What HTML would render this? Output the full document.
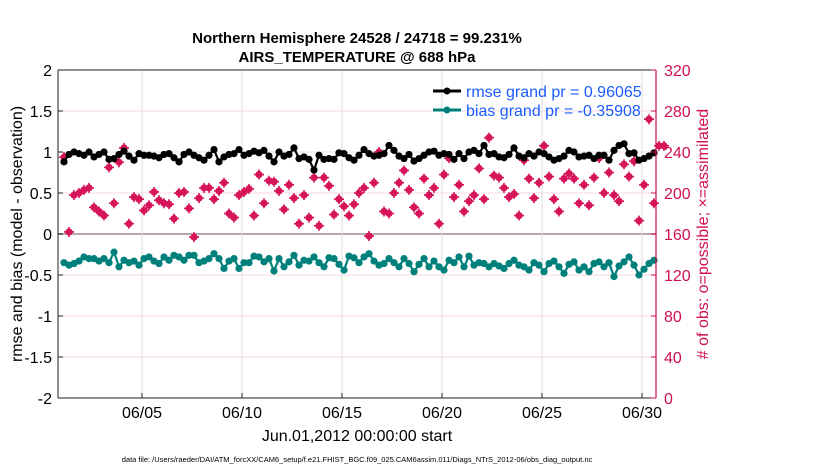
<!DOCTYPE html>
<html><head><meta charset="utf-8"><style>
body{margin:0;background:#fff;}
svg{display:block;font-family:"Liberation Sans",sans-serif;}
</style></head><body>
<svg id="chart" width="830" height="470" viewBox="0 0 830 470" xmlns="http://www.w3.org/2000/svg">
<text x="357" y="43" text-anchor="middle" font-size="15" font-weight="bold">Northern Hemisphere 24528 / 24718 = 99.231%</text>
<text x="357" y="62" text-anchor="middle" font-size="15" font-weight="bold">AIRS_TEMPERATURE @ 688 hPa</text>
<g id="grid"></g>
<g id="obs"></g>
<g id="lines"></g>
<g id="axes"></g>
<text transform="translate(22,234) rotate(-90)" text-anchor="middle" font-size="16">rmse and bias (model - observation)</text>
<text transform="translate(708,234) rotate(-90)" text-anchor="middle" font-size="16" fill="#d0104c"># of obs: o=possible; ×=assimilated</text>
<text x="357" y="441" text-anchor="middle" font-size="16">Jun.01,2012 00:00:00 start</text>
<text x="357" y="462" text-anchor="middle" font-size="7.5">data file: /Users/raeder/DAI/ATM_forcXX/CAM6_setup/f.e21.FHIST_BGC.f09_025.CAM6assim.011/Diags_NTrS_2012-06/obs_diag_output.nc</text>
<g>
<line x1="433" y1="91" x2="461" y2="91" stroke="#000" stroke-width="3"/><circle cx="447" cy="91" r="3.5" fill="#000"/>
<text x="466" y="97" font-size="16" fill="#1a5cff">rmse grand pr = 0.96065</text>
<line x1="433" y1="110" x2="461" y2="110" stroke="#00807a" stroke-width="3"/><circle cx="447" cy="110" r="3.5" fill="#00807a"/>
<text x="466" y="116" font-size="16" fill="#1a5cff">bias grand pr = -0.35908</text>
</g>
</svg>
<script>
const leftTicks=[-2,-1.5,-1,-0.5,0,0.5,1,1.5,2];
const leftTickLabels=["-2","-1.5","-1","-0.5","0","0.5","1","1.5","2"];
const rightTicks=[0,40,80,120,160,200,240,280,320];
const xTickDays=[4,9,14,19,24,29];
const xTickLabels=["06/05","06/10","06/15","06/20","06/25","06/30"];
const startDay=0.1, stepDay=0.25;
const rmse=[0.88,0.97,1.00,0.98,0.96,1.00,0.94,0.97,1.00,0.91,0.92,0.97,1.01,0.95,0.90,0.98,0.96,0.96,0.95,0.93,0.97,0.98,0.93,0.88,0.97,1.00,0.96,0.93,0.90,0.96,1.03,0.88,0.94,0.97,0.98,1.03,0.96,0.98,1.01,0.99,1.02,0.95,0.88,1.00,0.95,0.97,1.05,0.92,0.94,0.91,0.78,0.96,0.91,0.92,0.91,0.99,0.98,0.93,0.90,0.96,1.03,0.98,0.95,0.96,0.98,1.08,1.02,0.95,0.92,0.97,0.89,0.92,0.96,1.00,1.01,0.96,0.98,0.97,0.91,0.98,0.92,1.00,1.02,0.98,1.08,0.97,0.98,0.94,0.93,0.97,1.05,0.95,0.93,0.98,0.95,1.00,0.98,0.94,0.90,0.92,0.95,1.02,1.00,0.94,0.95,0.96,0.92,0.96,0.96,0.90,1.02,1.08,1.10,0.98,0.99,0.90,0.92,0.95,0.99];
const bias=[-0.35,-0.38,-0.36,-0.33,-0.28,-0.30,-0.30,-0.33,-0.30,-0.35,-0.22,-0.40,-0.32,-0.35,-0.33,-0.38,-0.30,-0.28,-0.33,-0.36,-0.28,-0.32,-0.26,-0.28,-0.32,-0.26,-0.26,-0.35,-0.33,-0.30,-0.24,-0.30,-0.42,-0.33,-0.30,-0.42,-0.35,-0.35,-0.27,-0.28,-0.34,-0.30,-0.45,-0.30,-0.40,-0.34,-0.26,-0.38,-0.32,-0.33,-0.28,-0.35,-0.40,-0.29,-0.30,-0.37,-0.44,-0.27,-0.29,-0.35,-0.28,-0.24,-0.33,-0.38,-0.36,-0.30,-0.35,-0.40,-0.30,-0.36,-0.46,-0.37,-0.30,-0.40,-0.33,-0.40,-0.44,-0.32,-0.35,-0.28,-0.40,-0.27,-0.38,-0.35,-0.36,-0.40,-0.36,-0.39,-0.42,-0.36,-0.32,-0.38,-0.40,-0.44,-0.35,-0.38,-0.46,-0.36,-0.33,-0.40,-0.48,-0.37,-0.34,-0.44,-0.40,-0.46,-0.36,-0.34,-0.40,-0.35,-0.52,-0.39,-0.34,-0.28,-0.38,-0.50,-0.43,-0.36,-0.32];
const obsCount=[235,162,198,200,203,205,186,182,178,225,190,230,244,170,196,194,183,188,201,193,190,189,175,200,201,185,157,195,205,205,194,202,210,180,176,198,201,204,178,218,190,212,211,202,184,208,195,170,198,176,215,168,215,207,179,194,187,178,189,200,205,158,210,240,182,180,200,210,222,203,186,180,214,198,205,170,218,234,196,208,182,192,198,224,194,254,217,215,205,196,199,178,232,214,195,210,246,216,194,182,214,219,214,190,208,188,215,234,200,220,198,192,228,216,231,173,208,272,190,246,246];

const X0=58,X1=656,Y0=70,Y1=398;
const xs=d=>142+(d-4)*20;
const yl=v=>234-v*82;
const yr=v=>Y1-v*(Y1-Y0)/320;
const NS="http://www.w3.org/2000/svg";
function mk(tag,attrs,parent){const e=document.createElementNS(NS,tag);for(const k in attrs)e.setAttribute(k,attrs[k]);parent.appendChild(e);return e;}
const grid=document.getElementById('grid'),axes=document.getElementById('axes'),obs=document.getElementById('obs'),lines=document.getElementById('lines');
mk('rect',{x:X0,y:Y0,width:X1-X0,height:Y1-Y0,fill:'#fff'},grid);
leftTicks.forEach(v=>{const l=mk('line',{x1:X0,x2:X1,y1:yl(v),y2:yl(v),stroke:v===0?'#b8a8ac':'#f4d8e0','stroke-width':v===0?2:1},grid);

});
xTickDays.forEach(d=>{const l=mk('line',{x1:xs(d),x2:xs(d),y1:Y0,y2:Y1,stroke:'#dcdcdc'},grid);

});
obsCount.forEach((v,i)=>{const x=xs(startDay+i*stepDay),y=yr(v);
const g=mk('g',{},obs);


mk('circle',{cx:x,cy:y,r:3.6,fill:'#d6145a'},g);
mk('path',{d:`M${x-5} ${y}H${x+5}M${x} ${y-5}V${y+5}`,stroke:'#d6145a','stroke-width':1.6},g);});
function series(vals,color,name){const pts=vals.map((v,i)=>[xs(startDay+i*stepDay),yl(v)]);
const p=mk('polyline',{points:pts.map(p=>p.join(',')).join(' '),fill:'none',stroke:color,'stroke-width':2.2},lines);


pts.forEach(q=>{const c=mk('circle',{cx:q[0],cy:q[1],r:3.6,fill:color},lines);

});}
series(rmse,'#000','rmse');series(bias,'#00807a','bias');
mk('line',{x1:X0,x2:X1,y1:Y0,y2:Y0,stroke:'#222'},axes);
mk('line',{x1:X0,x2:X1,y1:Y1,y2:Y1,stroke:'#222'},axes);
mk('line',{x1:X0,x2:X0,y1:Y0,y2:Y1,stroke:'#222'},axes);
mk('line',{x1:X1,x2:X1,y1:Y0,y2:Y1,stroke:'#d0104c','stroke-width':1.2},axes);
leftTicks.forEach((v,i)=>{mk('line',{x1:X0,x2:X0+5,y1:yl(v),y2:yl(v),stroke:'#222'},axes);
const t=mk('text',{x:X0-6,y:yl(v)+6,'text-anchor':'end','font-size':16},axes);t.textContent=leftTickLabels[i];

});
rightTicks.forEach(v=>{mk('line',{x1:X1-5,x2:X1,y1:yr(v),y2:yr(v),stroke:'#d0104c'},axes);
const t=mk('text',{x:X1+8,y:yr(v)+6,'font-size':16,fill:'#d0104c'},axes);t.textContent=v;

});
xTickDays.forEach((d,i)=>{mk('line',{x1:xs(d),x2:xs(d),y1:Y1,y2:Y1-5,stroke:'#222'},axes);
const t=mk('text',{x:xs(d),y:Y1+20,'text-anchor':'middle','font-size':16},axes);t.textContent=xTickLabels[i];

});
</script>
</body></html>
